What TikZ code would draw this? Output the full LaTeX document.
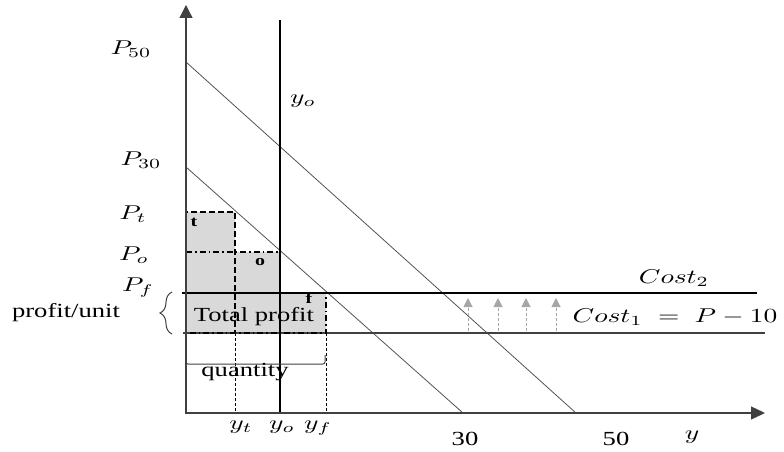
\documentclass[tikz,border=0pt]{standalone}
\usepackage{fontspec}
\setmainfont{Liberation Serif}
\usepackage{graphicx}
\usetikzlibrary{arrows.meta,decorations.pathreplacing}
\newcommand{\wt}[1]{\scalebox{1.33}[1]{#1}}
\newcommand{\wm}[1]{\scalebox{2.75}[2.0]{\normalsize #1}}
\definecolor{shadegray}{HTML}{D9D9D9}
\definecolor{axisgray}{HTML}{404040}
\definecolor{arrowgray}{HTML}{A6A6A6}
\begin{document}
\begin{tikzpicture}[x=1pt,y=-1pt,
  axis/.style={draw=axisgray,line width=1.3pt},
  demand/.style={draw=axisgray!90,line width=0.8pt},
  costline/.style={draw=black,line width=1.1pt},
  dd/.style={draw=black,line width=1.3pt,dash pattern=on 6pt off 3pt on 1.5pt off 3pt},
  dl/.style={draw=black,line width=1.3pt,dash pattern=on 6pt off 3pt},
  thindash/.style={draw=black,line width=0.6pt,dash pattern=on 3pt off 2pt},
  uparrow/.style={draw=arrowgray,line width=1pt,dash pattern=on 3pt off 2pt,-{Triangle[length=9pt,width=9pt,fill=arrowgray]}},
  mlab/.style={inner sep=0pt,font=\normalsize},
  tlab/.style={inner sep=0pt,font=\fontsize{20}{24}\selectfont},
  slab/.style={inner sep=0pt,font=\fontsize{15}{18}\selectfont\bfseries}]
\useasboundingbox (0,0) rectangle (784,452);
% shaded region
\fill[shadegray] (186,212) -- (235,212) -- (235,252) -- (280,252) -- (280,293) -- (326,293) -- (326,333) -- (186,333) -- cycle;
% coordinates
\coordinate (O) at (186,413);
\coordinate (ytop) at (186,5);
\coordinate (xend) at (765,413);
\coordinate (d50a) at (186,62);
\coordinate (d50b) at (576,413);
\coordinate (d30a) at (186,167);
\coordinate (d30b) at (463,413);
\coordinate (yoT) at (280,20);
\coordinate (yoB) at (280,413);
\coordinate (c2a) at (182,293);
\coordinate (c2b) at (757,293);
\coordinate (c1a) at (183,333);
\coordinate (c1b) at (765,333);
\coordinate (ptL) at (186,212);
\coordinate (ptR) at (235,212);
\coordinate (tB) at (235,333);
\coordinate (tX) at (235,413);
\coordinate (poL) at (186,252);
\coordinate (poR) at (280,252);
\coordinate (fTL) at (186,293);
\coordinate (fTR) at (326,293);
\coordinate (fBL) at (186,333);
\coordinate (fBR) at (326,333);
\coordinate (fX) at (326,413);
\coordinate (qL) at (186,355);
\coordinate (qR) at (325,355);
\coordinate (brB) at (172,334);
\coordinate (brT) at (172,292);
% demand lines
\draw[demand] (d50a) -- (d50b);
\draw[demand] (d30a) -- (d30b);
% cost lines
\draw[costline] (c2a) -- (c2b);
\draw[draw=axisgray,line width=1.1pt] (c1a) -- (c1b);
% rectangles
\draw[dl] (fBL) -- (ptL) -- (ptR) -- (tB);
\draw[dd] (poL) -- (poR);
\draw[dd] (fTL) -- (fTR) -- (fBR) -- (fBL);
\draw[thindash] (tB) -- (tX);
\draw[thindash] (fBR) -- (fX);
% y_o line
\draw[black,line width=2.2pt] (yoT) -- (yoB);
% axes
\draw[axis,{Triangle[length=13pt,width=13pt]}-{Triangle[length=14pt,width=13pt]}] (ytop) -- (O) -- (xend);
% quantity bracket
\draw[draw=axisgray,line width=1pt,rounded corners=2pt] (qL) -- ([yshift=-9pt]qL) -- ([yshift=-9pt]qR) -- (qR);
% brace
\draw[draw=axisgray,line width=1pt,decorate,decoration={brace,amplitude=12pt}] (brB) -- (brT);
% up arrows
\foreach \i/\x in {1/468,2/498,3/526,4/556}{
  \coordinate (ua\i) at (\x,331);
  \coordinate (ub\i) at (\x,298);
  \draw[uparrow] (ua\i) -- (ub\i);
}
% labels
\node[mlab] (lP50) at (131,49) {\wm{$P_{50}$}};
\node[mlab] (lP30) at (141,160) {\wm{$P_{30}$}};
\node[mlab] (lPt) at (133,214) {\wm{$P_{t}$}};
\node[mlab] (lPo) at (134,255) {\wm{$P_{o}$}};
\node[mlab] (lPf) at (138,288) {\wm{$P_{f}$}};
\node[mlab] (lyo) at (303,101) {\wm{$y_{o}$}};
\node[tlab] (lpu) at (66,313) {\wt{profit/unit}};
\node[slab] (lt) at (194,222) {\wt{t}};
\node[slab] (lo) at (260,262) {\wt{o}};
\node[slab] (lf) at (309,298) {\wt{f}};
\node[tlab] (ltp) at (254,317) {\wt{Total profit}};
\node[tlab] (lq) at (245,372) {\wt{quantity}};
\node[mlab] (lC2) at (674,278) {\wm{$Cost_{2}$}};
\node[mlab] (lC1) at (675,317) {\wm{$Cost_{1}\;=\;P-10$}};
\node[mlab] (lyt) at (241,427) {\wm{$y_{t}$}};
\node[mlab] (lyo2) at (282,427) {\wm{$y_{o}$}};
\node[mlab] (lyf) at (318,428) {\wm{$y_{f}$}};
\node[tlab] (l30) at (465,439) {\wt{30}};
\node[tlab] (l50) at (616,439) {\wt{50}};
\node[mlab] (ly) at (692,437) {\wm{$y$}};
\end{tikzpicture}
\end{document}
